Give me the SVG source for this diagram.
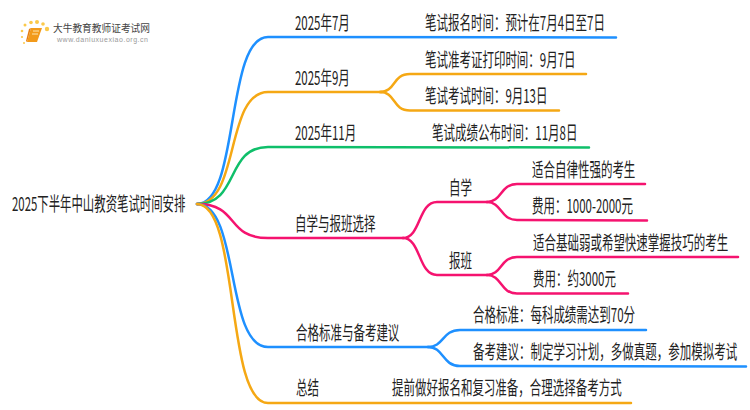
<svg xmlns="http://www.w3.org/2000/svg" width="750" height="410" viewBox="0 0 750 410">
<style>
text{font-family:"Noto Sans CJK SC","Liberation Sans",sans-serif;fill:#222;font-size:19px}
.c path{fill:none;stroke-width:2.5;stroke-linecap:round}
.b{stroke:#1e90ff}.o{stroke:#f5a814}.g{stroke:#0fbf6a}.p{stroke:#f5136f}
</style>
<rect width="750" height="410" fill="#fff"/>
<g class="c" id="connectors">
<path class="b" d="M197 204C240 204 225 37 268 37L616 37.5"/>
<path class="o" d="M197 204C240 204 225 92 268 92L382 92"/>
<path class="o" d="M380 92C396 92 392 74 410 74L586 74"/>
<path class="o" d="M380 92C396 92 392 110.500 410 110.500L559 110.500"/>
<path class="g" d="M197 204C240 204 225 147 268 147L589 147.500"/>
<path class="p" d="M197 204C240 204 225 238 268 238L403 238"/>
<path class="p" d="M403 238C421 238 418 202 437 202L487 202"/>
<path class="p" d="M403 238C421 238 418 275 437 275L487 275"/>
<path class="p" d="M487 202C502 202 500 184 517 184L645 184"/>
<path class="p" d="M487 202C502 202 500 220 517 220L647 220.500"/>
<path class="p" d="M487 275C502 275 500 257 517 257L738 257"/>
<path class="p" d="M487 275C502 275 500 293.500 517 293.500L628 293.500"/>
<path class="b" d="M197 204C240 204 225 347 268 347L428 347"/>
<path class="b" d="M428 347C444 347 442 330 460 330L646 330"/>
<path class="b" d="M428 347C444 347 442 366 460 366L746 366.500"/>
<path class="o" d="M197 204C240 204 225 403 268 403L631 403"/>
</g>
<g id="logo">
<g fill="#fbc94a"><circle cx="47" cy="29" r="2.200"/><circle cx="37" cy="22" r="2"/><circle cx="31" cy="22.500" r="1.800"/><circle cx="43" cy="24" r="1.800"/><circle cx="25" cy="25" r="1.500"/><circle cx="22" cy="31" r="1.300"/><circle cx="22" cy="37" r="1.100"/><circle cx="24" cy="43" r="1"/></g>
<path d="M31 28H42L37 42H27Z" fill="#f29a1a"/><path d="M27 42L31 28L29 29L26 41Z" fill="#e57d10"/><path d="M33 31H39M32 34H38" stroke="#fde6b0" stroke-width="1" fill="none"/>
<text x="53" y="32" style="font-size:10.500px;fill:#444" textLength="97" lengthAdjust="spacingAndGlyphs">大牛教育教师证考试网</text>
<text x="57" y="41.500" style="font-size:7px;fill:#999;font-family:'Liberation Sans',sans-serif" textLength="91" lengthAdjust="spacing">www.daniuxuexiao.org.cn</text>
</g>
<g id="root"><text transform="translate(12 211) scale(.6 1)">2025下半年中山教资笔试时间安排</text></g>
<g id="n1"><text transform="translate(295 30) scale(.605 1)">2025年7月</text></g>
<g id="n1a"><text transform="translate(425 30) scale(.605 1)">笔试报名时间：预计在7月4日至7日</text></g>
<g id="n2"><text transform="translate(295 85) scale(.605 1)">2025年9月</text></g>
<g id="n2a"><text transform="translate(425 67) scale(.605 1)">笔试准考证打印时间：9月7日</text></g>
<g id="n2b"><text transform="translate(425 103) scale(.605 1)">笔试考试时间：9月13日</text></g>
<g id="n3"><text transform="translate(295 140) scale(.605 1)">2025年11月</text></g>
<g id="n3a"><text transform="translate(432 140) scale(.605 1)">笔试成绩公布时间：11月8日</text></g>
<g id="n4"><text transform="translate(295 231) scale(.605 1)">自学与报班选择</text></g>
<g id="n4a"><text transform="translate(449 195) scale(.605 1)">自学</text></g>
<g id="n4a1"><text transform="translate(532 177) scale(.605 1)">适合自律性强的考生</text></g>
<g id="n4a2"><text transform="translate(532 213) scale(.605 1)">费用：1000-2000元</text></g>
<g id="n4b"><text transform="translate(449 268) scale(.605 1)">报班</text></g>
<g id="n4b1"><text transform="translate(533 250) scale(.605 1)">适合基础弱或希望快速掌握技巧的考生</text></g>
<g id="n4b2"><text transform="translate(533 286) scale(.605 1)">费用：约3000元</text></g>
<g id="n5"><text transform="translate(296 340) scale(.605 1)">合格标准与备考建议</text></g>
<g id="n5a"><text transform="translate(473 322) scale(.605 1)">合格标准：每科成绩需达到70分</text></g>
<g id="n5b"><text transform="translate(473 359) scale(.605 1)">备考建议：制定学习计划，多做真题，参加模拟考试</text></g>
<g id="n6"><text transform="translate(296 395) scale(.605 1)">总结</text></g>
<g id="n6a"><text transform="translate(392 395) scale(.605 1)">提前做好报名和复习准备，合理选择备考方式</text></g>
</svg>
